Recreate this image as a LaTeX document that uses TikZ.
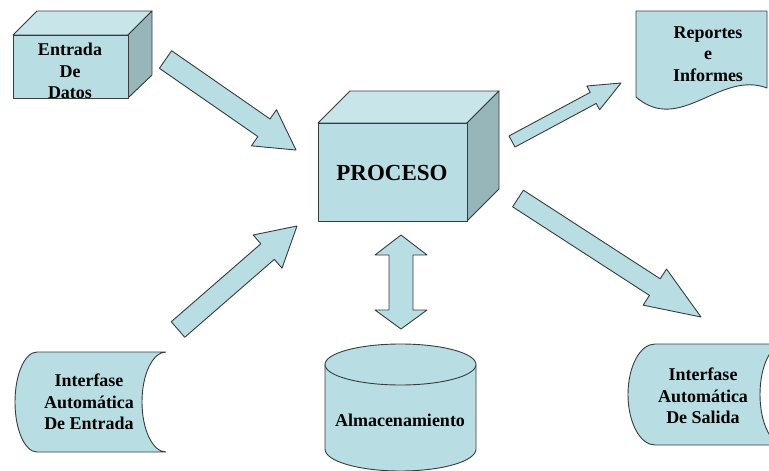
\documentclass[tikz,border=0pt]{standalone}
\usepackage{fontspec}
\setmainfont{Liberation Serif}
\usetikzlibrary{calc}
\definecolor{face}{RGB}{184,222,228}
\definecolor{topface}{RGB}{200,230,234}
\definecolor{sideface}{RGB}{150,182,186}
\definecolor{edge}{RGB}{55,60,62}
\tikzset{
  shapeline/.style={draw=edge, line width=0.9pt, line join=round},
  frontf/.style={shapeline, fill=face},
  topf/.style={shapeline, fill=topface},
  sidef/.style={shapeline, fill=sideface},
  blockarr/.style={shapeline, fill=face},
  lbl/.style={font=\bfseries\fontsize{18}{21.5}\selectfont, align=center, inner sep=0pt},
  biglbl/.style={font=\bfseries\fontsize{23}{26}\selectfont, align=center, inner sep=0pt}
}
% tail, tip, shaft half width, head half width, head length
\newcommand\blockarrow[5]{%
  \coordinate (hb) at ($(#2)!#5!(#1)$);
  \draw[blockarr] ($(#1)!#3!90:(#2)$) -- ($(hb)!#3!-90:(#1)$) -- ($(hb)!#4!-90:(#1)$)
    -- (#2) -- ($(hb)!#4!90:(#1)$) -- ($(hb)!#3!90:(#1)$) -- ($(#1)!#3!-90:(#2)$) -- cycle;}
\begin{document}
\begin{tikzpicture}[x=1pt,y=-1pt]
\useasboundingbox (0,0) rectangle (769,471);
\clip (0,0) rectangle (769,471);

% ---- Entrada de Datos cube
\draw[topf] (13,35) -- (37,11) -- (152,11) -- (128,35) -- cycle;
\draw[sidef] (128,35) -- (152,11) -- (152,75) -- (128,98) -- cycle;
\draw[frontf] (13,35) rectangle (128,98);
\node[lbl] (entrada) at (70,71) {Entrada\\De\\Datos};

% ---- PROCESO cube
\draw[topf] (318,123) -- (350,91) -- (499,91) -- (467,123) -- cycle;
\draw[sidef] (467,123) -- (499,91) -- (499,189) -- (467,221) -- cycle;
\draw[frontf] (318,123) rectangle (467,221);
\node[biglbl] (proceso) at (392,173) {PROCESO};

% ---- Reportes e Informes (document)
\draw[frontf] (636,97) -- (636,11) -- (767,11) -- (767,88)
  .. controls (720,70) and (680,135) .. (636,97);
\node[lbl] (reportes) at (708,54) {Reportes\\e\\Informes};

% ---- Interfase Automatica de Entrada (stored data)
\draw[frontf] (166,352) -- (37,352) .. controls (24.8,352) and (15,374.4) .. (15,402)
  .. controls (15,429.6) and (24.8,452) .. (37,452) -- (166,452)
  .. controls (152.7,452) and (142,429.6) .. (142,402)
  .. controls (142,374.4) and (152.7,352) .. (166,352);
\node[lbl] (ientrada) at (89,402) {Interfase\\Automática\\De Entrada};

% ---- Interfase Automatica de Salida (stored data)
\draw[frontf] (784,344) -- (655,344) .. controls (640.1,344) and (628,366.4) .. (628,394.5)
  .. controls (628,422.4) and (640.1,445) .. (655,445) -- (784,445)
  .. controls (770.7,445) and (760,422.4) .. (760,394.5)
  .. controls (760,366.4) and (770.7,344) .. (784,344);
\node[lbl] (isalida) at (703,396) {Interfase\\Automática\\De Salida};

% ---- Almacenamiento cylinder
\draw[frontf] (325,364.5) -- (325,449) .. controls (325,461.2) and (358.8,471) .. (400.5,471)
  .. controls (442.2,471) and (476,461.2) .. (476,449) -- (476,364.5);
\draw[frontf] (400.5,364.5) ellipse [x radius=75.5pt, y radius=20.5pt];
\node[lbl] (almac) at (400,420) {Almacenamiento};

% ---- block arrows
\coordinate (a1t) at (165.5,59.5);  \coordinate (a1h) at (296,150);
\coordinate (a2t) at (178,329.5);   \coordinate (a2h) at (297,226);
\coordinate (a3t) at (512,141.5);   \coordinate (a3h) at (621,83);
\coordinate (a4t) at (518,198.5);   \coordinate (a4h) at (701,317);
\blockarrow{a1t}{a1h}{10.7pt}{22pt}{39pt}
\blockarrow{a2t}{a2h}{10.3pt}{22pt}{39pt}
\blockarrow{a3t}{a3h}{6.3pt}{13.5pt}{31.5pt}
\blockarrow{a4t}{a4h}{9.9pt}{21.5pt}{55pt}

% ---- double arrow
\draw[blockarr] (401,235) -- (427,255) -- (413,255) -- (413,310) -- (427,310) -- (401,329)
  -- (375,310) -- (389,310) -- (389,255) -- (375,255) -- cycle;
\end{tikzpicture}
\end{document}
